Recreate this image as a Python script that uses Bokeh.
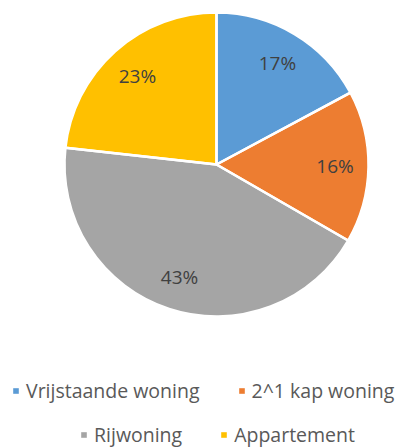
import math
from bokeh.plotting import figure
from bokeh.models import ColumnDataSource, Range1d, Legend, LegendItem
from bokeh.core.properties import value
from bokeh.embed import file_html
from bokeh.resources import INLINE

categories = ["Vrijstaande woning", "2^1 kap woning", "Rijwoning", "Appartement"]
values = [17, 16, 43, 23]
labels = ["17%", "16%", "43%", "23%"]
colors = ["#5B9BD5", "#ED7D31", "#A5A5A5", "#FFC000"]

W, H = 397, 448
cx, cy, R = 216, -164, 152
FONT = "Open Sans"

total = sum(values)
starts, ends, lx, ly = [], [], [], []
cum = 0.0
for v in values:
    a0 = math.pi / 2 - 2 * math.pi * cum / total
    cum += v
    a1 = math.pi / 2 - 2 * math.pi * cum / total
    starts.append(a1)
    ends.append(a0)
    mid = (a0 + a1) / 2
    lx.append(cx + 0.78 * R * math.cos(mid))
    ly.append(cy + 0.78 * R * math.sin(mid))

p = figure(width=W, height=H, output_backend="svg", toolbar_location=None,
           x_range=Range1d(0, W), y_range=Range1d(-H, 0),
           x_axis_location=None, y_axis_location=None, min_border=0)
p.outline_line_color = None
p.grid.visible = False
p.background_fill_color = "white"
p.border_fill_color = "white"

renderers = []
for i in range(len(values)):
    src = ColumnDataSource(dict(x=[cx], y=[cy], s=[starts[i]], e=[ends[i]]))
    r = p.wedge(x="x", y="y", radius=R, start_angle="s", end_angle="e",
                fill_color=colors[i], line_color=None, source=src)
    renderers.append(r)
# white separators between slices
sep_src = ColumnDataSource(dict(x=[cx] * len(values), y=[cy] * len(values), s=starts, e=ends))
p.wedge(x="x", y="y", radius=R, start_angle="s", end_angle="e",
        fill_color=None, line_color="white", line_width=2.5, source=sep_src)

lab_src = ColumnDataSource(dict(x=lx, y=ly, t=labels))
p.text(x="x", y="y", text="t", source=lab_src, text_align="center",
       text_baseline="middle", text_font=value(FONT), text_font_size="19px",
       text_color="#404040")

def make_legend(idx, loc):
    lg = Legend(items=[LegendItem(label=categories[i], renderers=[renderers[i]]) for i in idx],
                orientation="horizontal", location=loc)
    lg.label_text_font = FONT
    lg.label_text_font_size = "19.5px"
    lg.label_text_color = "#595959"
    lg.label_text_baseline = "middle"
    lg.glyph_width = 7
    lg.glyph_height = 7
    lg.label_standoff = 7
    lg.spacing = 38
    lg.padding = 0
    lg.margin = 0
    lg.label_height = 24
    lg.border_line_color = None
    lg.background_fill_alpha = 0
    return lg

p.add_layout(make_legend([0, 1], (12, 44)), "center")
p.add_layout(make_legend([2, 3], (80, 0)), "center")

open("out.html", "w").write(file_html(p, INLINE))
